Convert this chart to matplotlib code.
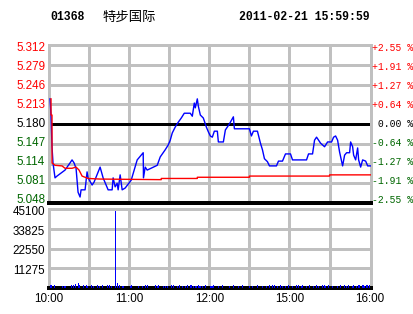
#!/usr/bin/env python3

import numpy as np
import matplotlib.pyplot as plt
from matplotlib import transforms

plt.rcParams['font.family'] = ['Liberation Sans', 'DejaVu Sans']

code = "01368"
name = "特步国际"
stamp = "2011-02-21 15:59:59"
prev_close = 5.180

price_ticks = [5.312, 5.279, 5.246, 5.213, 5.180, 5.147, 5.114, 5.081, 5.048]
pct_labels = ["+2.55 %", "+1.91 %", "+1.27 %", "+0.64 %", " 0.00 %",
              "-0.64 %", "-1.27 %", "-1.91 %", "-2.55 %"]
vol_ticks = [11275, 22550, 33825, 45100]
time_labels = ["10:00", "11:00", "12:00", "15:00", "16:00"]
time_pos = [0, 60, 120, 180, 240]   # trading minutes since 10:00

# price line (trading minute, price)
px_min = [0.75, 1.5, 2.25, 3.0, 4.5, 6.0, 12.0, 15.75, 17.25, 18.75, 20.25, 21.75,
          23.25, 24.0, 27.0, 28.5, 29.25, 32.25, 33.75, 38.25, 40.5, 44.25, 47.25,
          48.0, 49.5, 51.0, 51.75, 53.25, 54.75, 57.0, 61.5, 66.0, 70.5, 70.7, 72.0,
          73.5, 81.0, 83.25, 87.0, 89.25, 90.75, 92.25, 94.5, 96.75, 99.0, 101.25,
          105.75, 107.25, 108.75, 109.5, 111.0, 111.75, 113.25, 115.5, 117.75,
          119.25, 120.75, 122.25, 123.75, 126.0, 126.75, 130.5, 132.0, 135.0, 138.0,
          138.75, 150.0, 151.5, 153.0, 156.0, 158.25, 159.75, 161.25, 163.5, 165.0,
          170.25, 171.75, 174.75, 177.0, 180.75, 182.25, 192.75, 194.25, 197.25,
          198.75, 200.25, 201.75, 203.25, 206.25, 208.5, 211.5, 213.0, 214.5, 216.0,
          217.5, 219.75, 221.25, 222.75, 225.0, 225.75, 227.25, 228.0, 229.5, 231.0,
          231.75, 233.25, 234.75, 237.0, 238.5, 241.0]
px_val = [5.222, 5.195, 5.142, 5.115, 5.090, 5.093, 5.103, 5.115, 5.120, 5.115,
          5.106, 5.066, 5.058, 5.070, 5.070, 5.100, 5.090, 5.078, 5.083, 5.108,
          5.090, 5.070, 5.070, 5.090, 5.075, 5.081, 5.070, 5.095, 5.070, 5.073,
          5.086, 5.120, 5.132, 5.090, 5.108, 5.103, 5.111, 5.125, 5.137, 5.145,
          5.153, 5.165, 5.175, 5.183, 5.190, 5.198, 5.198, 5.193, 5.215, 5.207,
          5.222, 5.210, 5.195, 5.190, 5.175, 5.167, 5.160, 5.158, 5.168, 5.168,
          5.150, 5.150, 5.170, 5.180, 5.192, 5.172, 5.172, 5.160, 5.168, 5.168,
          5.148, 5.137, 5.122, 5.117, 5.110, 5.110, 5.118, 5.118, 5.130, 5.130,
          5.120, 5.120, 5.130, 5.130, 5.153, 5.158, 5.153, 5.148, 5.142, 5.150,
          5.150, 5.158, 5.160, 5.153, 5.133, 5.110, 5.128, 5.132, 5.132, 5.150,
          5.142, 5.128, 5.120, 5.140, 5.120, 5.108, 5.120, 5.118, 5.110, 5.110]

# average price line
avg_min = [1.5, 1.5, 2.25, 2.25, 4.5, 9.75, 12.0, 17.25, 20.25, 22.5, 24.75, 29.25,
           38.25, 84.0, 84.0, 111.0, 111.0, 150.0, 150.0, 210.0, 210.0, 241.0]
avg_val = [5.222, 5.195, 5.195, 5.115, 5.111, 5.110, 5.106, 5.106, 5.108, 5.103,
           5.093, 5.089, 5.088, 5.087, 5.089, 5.089, 5.091, 5.091, 5.093, 5.093,
           5.095, 5.095]

# volume per minute
vol_min = [1, 2, 4, 10, 12, 17, 18, 20, 22, 23, 26, 28, 29, 32, 33, 36, 38, 40, 44,
           45, 47, 50, 51, 53, 55, 56, 61, 62, 67, 70, 72, 74, 80, 81, 82, 86, 87,
           89, 92, 93, 96, 98, 100, 102, 104, 106, 107, 108, 110, 112, 113, 115, 117,
           121, 122, 123, 127, 130, 135, 138, 142, 145, 150, 152, 156, 160, 163, 165,
           167, 169, 171, 173, 175, 177, 179, 182, 185, 187, 189, 190, 193, 195, 198,
           200, 202, 205, 206, 207, 209, 212, 216, 218, 221, 223, 224, 227, 228, 230,
           232, 235, 236, 238, 240]
vol_val = [1700, 1700, 1700, 1200, 1200, 1700, 1700, 2300, 2900, 1700, 1700, 1700,
           1200, 1700, 1200, 1700, 1200, 1700, 1700, 1700, 1200, 44000, 3000, 1700,
           1200, 1200, 1200, 1700, 1200, 1200, 1700, 1700, 1700, 1200, 1700, 1200,
           1200, 1200, 1700, 1700, 1200, 1700, 1200, 1200, 1700, 1700, 1700, 1200,
           1200, 1700, 1200, 1200, 1700, 1200, 1200, 1700, 1200, 1700, 1200, 1700,
           1200, 1700, 1200, 1200, 1700, 1200, 1200, 1700, 1700, 1700, 1200, 1700,
           1200, 1200, 1700, 1200, 1700, 1700, 1200, 1700, 1200, 1700, 1200, 1700,
           1200, 1700, 1700, 1200, 1700, 1200, 1200, 1700, 1700, 1200, 1700, 1200,
           1700, 1200, 1700, 1700, 1200, 1700, 1700]

RED = '#ff0000'
GREEN = '#006600'
BLUE = '#0000ff'
GRID = '#c0c0c0'
W, H = 414, 314

fig = plt.figure(figsize=(W / 100, H / 100), dpi=100)

def axes_at(x0, y0, x1, y1):
    return fig.add_axes([x0 / W, 1 - y1 / H, (x1 - x0) / W, (y1 - y0) / H])

ax = axes_at(49, 45, 371, 203)
av = axes_at(49, 209, 371, 288)

for a in (ax, av):
    a.set_xlim(0, 241)
    a.set_xticks(range(30, 240, 30))
    a.tick_params(length=0, labelbottom=False, labelleft=False)
    a.grid(True, color=GRID, lw=0.75, antialiased=False)
    a.set_axisbelow(True)
    for s in ('left', 'top', 'right'):
        a.spines[s].set_color(GRID)
        a.spines[s].set_linewidth(0.75)
        a.spines[s].set_antialiased(False)
    a.spines['bottom'].set_color('black')
    a.spines['bottom'].set_linewidth(1.45)
    a.spines['bottom'].set_antialiased(False)

# price panel
ax.set_ylim(price_ticks[-1], price_ticks[0])
ax.set_yticks(price_ticks[1:-1])
ax.axhline(prev_close, color='black', lw=0.75, zorder=2, antialiased=False)
ax.plot(px_min, px_val, color=BLUE, lw=1.0, zorder=3)
ax.plot(avg_min, avg_val, color=RED, lw=1.0, zorder=4)

ltrans = transforms.blended_transform_factory(ax.transAxes, ax.transData)
for p, lab in zip(price_ticks, pct_labels):
    col = RED if p > prev_close else ('black' if p == prev_close else GREEN)
    yl = prev_close + (p - prev_close) * 19 / 19.75
    ax.text(-0.012, yl, "%.3f" % p, transform=ltrans, ha='right', va='center',
            color=col, fontsize=8.4)
    ax.text(1.003, yl, lab, transform=ltrans, ha='left', va='center',
            color=col, fontsize=7.0, family='Liberation Mono')

# volume panel
av.set_ylim(0, vol_ticks[-1])
av.set_yticks(vol_ticks[:-1])
av.bar(vol_min, vol_val, width=0.8, color=BLUE, zorder=3)
vtrans = transforms.blended_transform_factory(av.transAxes, av.transData)
off = transforms.ScaledTranslation(0, -3 / 100, fig.dpi_scale_trans)
for v in vol_ticks:
    av.text(-0.012, v, str(v), transform=vtrans + off, ha='right', va='center',
            color='black', fontsize=8.4)
ttrans = transforms.blended_transform_factory(av.transData, av.transAxes)
for t, lab in zip(time_pos, time_labels):
    av.text(t, -0.14, lab, transform=ttrans, ha='center', va='center',
            color='black', fontsize=8.4)

# header
fig.text(50 / W, 1 - 16.5 / H, code, ha='left', va='center', fontsize=8.3,
         family='Liberation Mono', weight='bold')
fig.text(103 / W, 1 - 16.5 / H, name, ha='left', va='center', fontsize=9.6,
         family=['Noto Sans CJK SC', 'DejaVu Sans'])
fig.text(370 / W, 1 - 16.5 / H, stamp, ha='right', va='center', fontsize=8.3,
         family='Liberation Mono', weight='bold')

fig.savefig('out.png', dpi=100)
